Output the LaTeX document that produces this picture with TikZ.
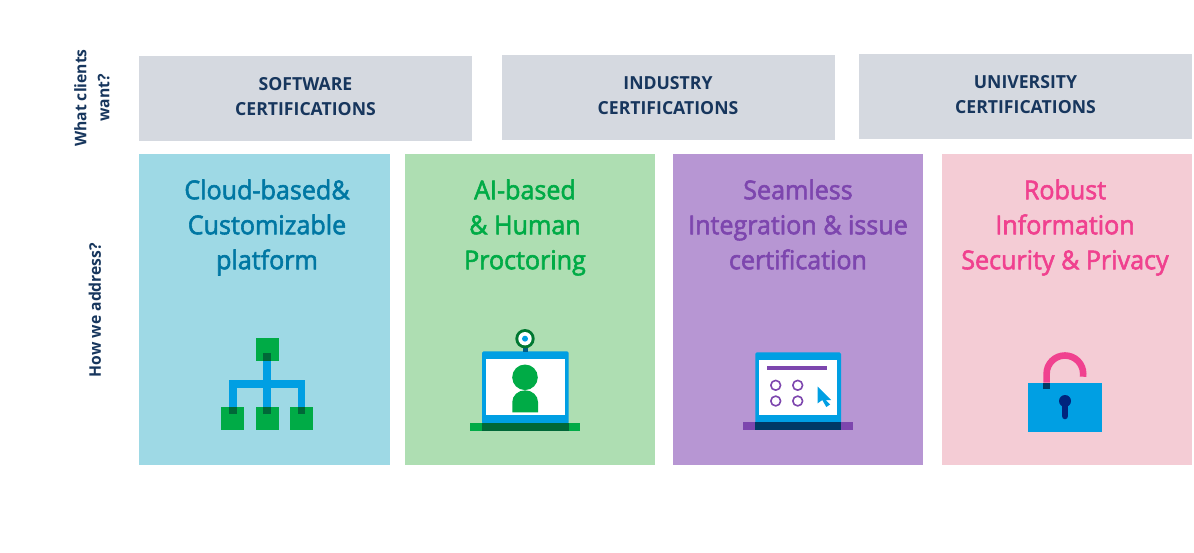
\documentclass[tikz,border=0pt]{standalone}
\usepackage{fontspec}
\setmainfont{Open Sans}
\newfontfamily\cardfont[FakeBold=2.2,FakeStretch=0.965]{Open Sans}
\newfontfamily\headfont[FakeStretch=0.98]{Open Sans}
\definecolor{greybox}{HTML}{D5D9E0}
\definecolor{navytext}{HTML}{17365D}
\definecolor{cloudbg}{HTML}{9ED9E5}
\definecolor{cloudtext}{HTML}{0077A3}
\definecolor{aibg}{HTML}{AEDEB2}
\definecolor{aitext}{HTML}{00AB46}
\definecolor{seambg}{HTML}{B796D3}
\definecolor{seamtext}{HTML}{7D46AE}
\definecolor{lockbg}{HTML}{F4CCD5}
\definecolor{locktext}{HTML}{F0418F}
\definecolor{iconblue}{HTML}{009FE3}
\definecolor{darkgreen}{HTML}{006838}
\definecolor{darknavy}{HTML}{003A66}
\definecolor{keynavy}{HTML}{00257E}
\begin{document}
\begin{tikzpicture}[
    x = 1pt,
    y = -1pt,
    line join=round,
    wantbox/.style = {fill=greybox, font=\headfont\bfseries\fontsize{18}{25}\selectfont, text=navytext, align=center},
    sidelabel/.style = {rotate=90, font=\headfont\bfseries\fontsize{16}{23}\selectfont, text=navytext, align=center},
    cardtext/.style = {font=\cardfont\fontsize{26}{35}\selectfont, align=center},
    greenbox/.style = {fill=aitext},
    bluefill/.style = {fill=iconblue},
]

\useasboundingbox (0, 0) rectangle (1194, 553);

% top row
\fill[greybox] (139, 56) rectangle (472, 141);
\fill[greybox] (501.5, 55) rectangle (835, 140);
\fill[greybox] (859, 54) rectangle (1192, 139);
\node[wantbox] (software) at (305.5, 96.5) {SOFTWARE\\CERTIFICATIONS};
\node[wantbox] (industry) at (668, 95.5) {INDUSTRY\\CERTIFICATIONS};
\node[wantbox] (university) at (1025.5, 94.5) {UNIVERSITY\\CERTIFICATIONS};

\node[sidelabel] (want) at (92, 98) {What clients\\want?};
\node[sidelabel] (address) at (95, 310) {How we address?};

% cards
\fill[cloudbg] (139, 154) rectangle (389.7, 465);
\fill[aibg] (405, 154) rectangle (655, 465);
\fill[seambg] (673, 154) rectangle (923, 465);
\fill[lockbg] (942, 154) rectangle (1192, 465);

\node[cardtext, text=cloudtext] (cloud) at (267, 227.5) {Cloud-based\&\\Customizable\\platform};
\node[cardtext, text=aitext] (proctor) at (525, 227.5) {AI-based\\\& Human\\Proctoring};
\node[cardtext, text=seamtext] (seamless) at (798, 224.5) {Seamless\\Integration \& issue\\certification};
\node[cardtext, text=locktext] (robust) at (1065, 227.5) {Robust\\Information\\Security \& Privacy};

% tree icon
\fill[greenbox] (255.7, 337.7) rectangle (278.7, 360.7);
\foreach \xleft in {221, 255.7, 290}
    \fill[greenbox] (\xleft, 406.7) rectangle ++(23, 23);
\fill[bluefill] (263.3, 353) rectangle (271, 414);
\fill[bluefill] (229, 379.7) rectangle (305.3, 387.7);
\fill[bluefill] (229, 379.7) rectangle (236.7, 414);
\fill[bluefill] (297.7, 379.7) rectangle (305.3, 414);
\fill[darkgreen] (263.3, 353) rectangle (271, 360.7);
\foreach \xleft in {229, 263.3, 297.6}
    \fill[darkgreen] (\xleft, 406.7) rectangle ++(7.7, 7.3);

% webcam laptop icon
\fill[aitext] (470, 422.7) rectangle (580.3, 430.7);
\fill[bluefill, rounded corners=1.5pt] (482, 351.3) rectangle (568.7, 424);
\fill[darkgreen] (482, 422.7) rectangle (568.7, 430.7);
\fill[white] (485.7, 359.3) rectangle (565, 415);
\fill[aitext] (525, 377.3) circle (12.8);
\fill[aitext] (512.3, 412.3) -- (512.3, 402) arc[start angle=180, end angle=0, x radius=12.85, y radius=-11.7] -- (538, 412.3) -- cycle;
\fill[iconblue!60!black] (522.7, 346) rectangle (527.7, 352);
\fill[aitext!70!black] (525, 338.7) circle (9.7);
\fill[white] (525, 338.7) circle (6.7);
\fill[iconblue] (525, 338.7) circle (3);

% form laptop icon
\fill[seamtext] (743.3, 422.3) rectangle (853, 430.3);
\fill[bluefill, rounded corners=1.5pt] (755.3, 352.3) rectangle (841, 424);
\fill[darknavy] (755.3, 422.3) rectangle (841, 430.3);
\fill[white] (759, 360) rectangle (837.3, 415);
\fill[seamtext] (767, 366) rectangle (827.3, 370);
\foreach \xc in {775.7, 797.7}
    \foreach \yc in {385.3, 401}
        \draw[seamtext, line width=1.6pt] (\xc, \yc) circle (4.9);
\fill[iconblue] (817.7, 386.7) -- (831, 400) -- (825.5, 400) -- (830, 404.5) -- (826.3, 407) -- (822.3, 400) -- (817.7, 403.3) -- cycle;

% lock icon
\fill[iconblue] (1028.3, 382.7) rectangle (1101.7, 431.7);
\draw[locktext, line width=6.6pt] (1046.6, 382.7) -- (1046.6, 373.8) arc[start angle=180, end angle=0, x radius=18.3, y radius=-18.3] -- (1083, 376.7);
\fill[darknavy] (1043.3, 382.7) rectangle (1049.9, 389);
\fill[keynavy] (1065, 401) circle (6);
\draw[keynavy, line width=6.6pt, line cap=round] (1065, 403) -- (1065, 416);

\end{tikzpicture}
\end{document}
